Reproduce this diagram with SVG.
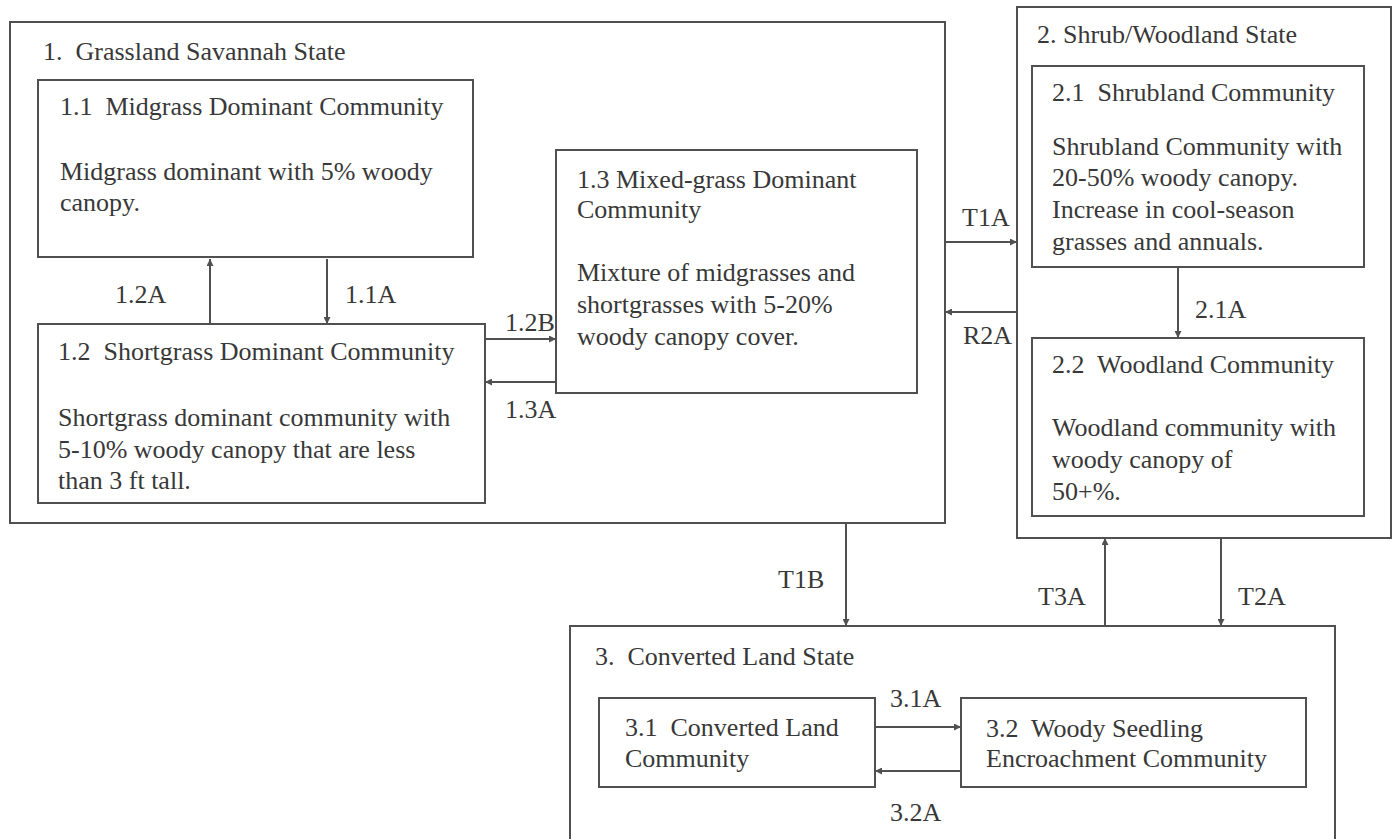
<svg xmlns="http://www.w3.org/2000/svg" width="1393" height="839" viewBox="0 0 1393 839">
<style>
  .box { fill: none; stroke: #505050; stroke-width: 2; }
  text { font-family: 'Liberation Serif', 'Times New Roman', Times, serif; font-size: 26px; fill: #383838; white-space: pre; }
  .c { stroke: #505050; stroke-width: 2; fill: none; marker-end: url(#ah); }
</style>
<defs>
  <marker id="ah" viewBox="0 0 10 10" refX="10" refY="5" markerWidth="8" markerHeight="7" markerUnits="userSpaceOnUse" orient="auto">
    <path d="M0,0 L10,5 L0,10 z" fill="#505050"/>
  </marker>
</defs>
<rect width="1393" height="839" fill="#fff"/>

<g id="state1">
  <rect class="box" x="10" y="22" width="935" height="501"/>
  <text x="43" y="60">1.  Grassland Savannah State</text>
</g>
<g id="c11">
  <rect class="box" x="38" y="80" width="435" height="177"/>
  <text x="60" y="115">1.1  Midgrass Dominant Community</text>
  <text x="60" y="180">Midgrass dominant with 5% woody</text>
  <text x="60" y="211">canopy.</text>
</g>
<g id="c12">
  <rect class="box" x="38" y="324" width="447" height="179"/>
  <text x="58" y="360">1.2  Shortgrass Dominant Community</text>
  <text x="58" y="426">Shortgrass dominant community with</text>
  <text x="58" y="458">5-10% woody canopy that are less</text>
  <text x="58" y="489">than 3 ft tall.</text>
</g>
<g id="c13">
  <rect class="box" x="556" y="150" width="361" height="243"/>
  <text x="577" y="188">1.3 Mixed-grass Dominant</text>
  <text x="577" y="218">Community</text>
  <text x="577" y="281">Mixture of midgrasses and</text>
  <text x="577" y="313">shortgrasses with 5-20%</text>
  <text x="577" y="345">woody canopy cover.</text>
</g>

<g id="state2">
  <rect class="box" x="1017" y="7" width="374" height="531"/>
  <text x="1037" y="43">2. Shrub/Woodland State</text>
</g>
<g id="c21">
  <rect class="box" x="1032" y="66" width="332" height="201"/>
  <text x="1052" y="101">2.1  Shrubland Community</text>
  <text x="1052" y="155">Shrubland Community with</text>
  <text x="1052" y="186">20-50% woody canopy.</text>
  <text x="1052" y="218">Increase in cool-season</text>
  <text x="1052" y="250">grasses and annuals.</text>
</g>
<g id="c22">
  <rect class="box" x="1032" y="338" width="332" height="178"/>
  <text x="1052" y="373">2.2  Woodland Community</text>
  <text x="1052" y="436">Woodland community with</text>
  <text x="1052" y="468">woody canopy of</text>
  <text x="1052" y="500">50+%.</text>
</g>

<g id="state3">
  <path class="box" d="M570,850 V626 H1335 V850"/>
  <text x="595" y="665">3.  Converted Land State</text>
</g>
<g id="c31">
  <rect class="box" x="599" y="698" width="276" height="89"/>
  <text x="625" y="736">3.1  Converted Land</text>
  <text x="625" y="767">Community</text>
</g>
<g id="c32">
  <rect class="box" x="961" y="698" width="345" height="89"/>
  <text x="986" y="737">3.2  Woody Seedling</text>
  <text x="986" y="767">Encroachment Community</text>
</g>

<g id="connectors">
  <line class="c" x1="210" y1="324" x2="210" y2="259"/>
  <line class="c" x1="327" y1="259" x2="327" y2="324"/>
  <line class="c" x1="485" y1="339" x2="556" y2="339"/>
  <line class="c" x1="556" y1="382" x2="485" y2="382"/>
  <line class="c" x1="945" y1="242" x2="1017" y2="242"/>
  <line class="c" x1="1017" y1="312" x2="945" y2="312"/>
  <line class="c" x1="1178" y1="267" x2="1178" y2="338"/>
  <line class="c" x1="846" y1="523" x2="846" y2="626"/>
  <line class="c" x1="1105" y1="626" x2="1105" y2="538"/>
  <line class="c" x1="1221" y1="538" x2="1221" y2="626"/>
  <line class="c" x1="875" y1="727" x2="961" y2="727"/>
  <line class="c" x1="961" y1="771" x2="875" y2="771"/>
  <text x="115" y="303">1.2A</text>
  <text x="345" y="303">1.1A</text>
  <text x="505" y="331">1.2B</text>
  <text x="505" y="418">1.3A</text>
  <text x="962" y="226">T1A</text>
  <text x="963" y="344">R2A</text>
  <text x="1195" y="318">2.1A</text>
  <text x="778" y="588">T1B</text>
  <text x="1038" y="605">T3A</text>
  <text x="1238" y="605">T2A</text>
  <text x="890" y="707">3.1A</text>
  <text x="890" y="821">3.2A</text>
</g>
</svg>
